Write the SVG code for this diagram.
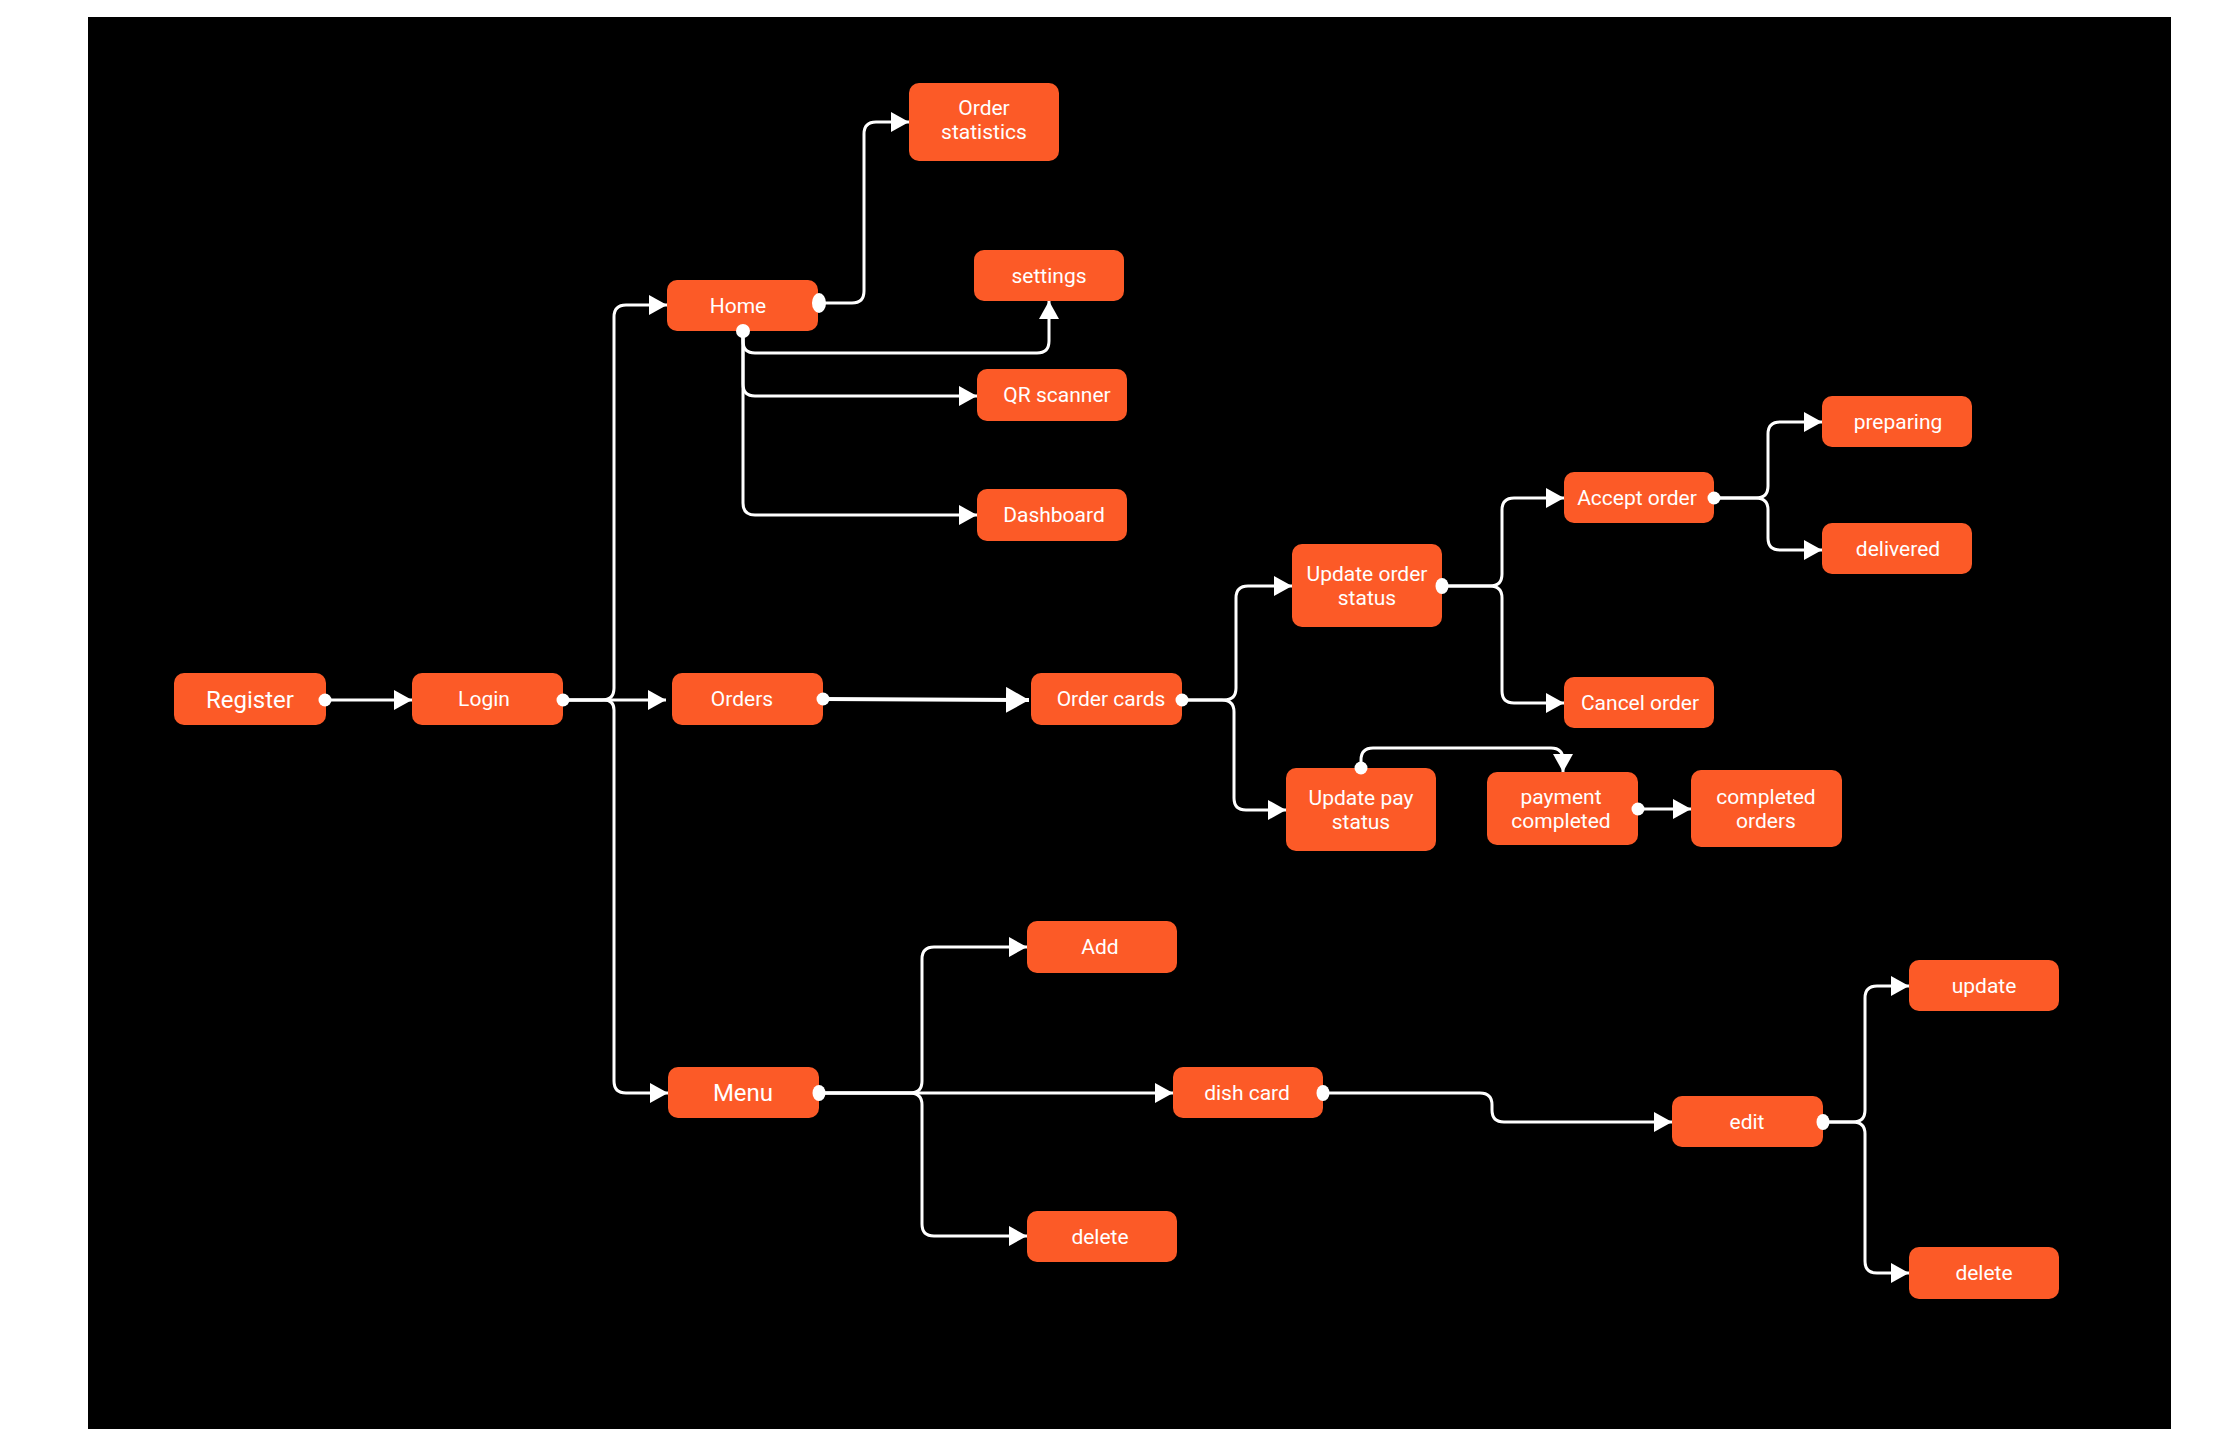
<svg xmlns="http://www.w3.org/2000/svg" width="2236" height="1450" viewBox="0 0 2236 1450">
<defs>
<marker id="arr" markerUnits="userSpaceOnUse" markerWidth="18" markerHeight="20" refX="18" refY="10" orient="auto">
<path d="M0,0 L18,10 L0,20 z" fill="#fff"/>
</marker>
<marker id="arrbig" markerUnits="userSpaceOnUse" markerWidth="23" markerHeight="26" refX="23" refY="13" orient="auto">
<path d="M0,0 L23,13 L0,26 z" fill="#fff"/>
</marker>
<style>
.box{fill:#FC5A27;}
.t{font-family:Roboto,"Liberation Sans",sans-serif;font-size:21px;fill:#fff;text-anchor:middle;}
.big{font-size:24px;}
.c{fill:none;stroke:#fff;stroke-width:3;marker-end:url(#arr);}
.cb{fill:none;stroke:#fff;stroke-width:4;marker-end:url(#arrbig);}
.d{fill:#fff;}
</style>
</defs>
<rect x="0" y="0" width="2236" height="1450" fill="#fff"/>
<rect x="88" y="17" width="2083" height="1412" fill="#000"/>

<g id="connectors">
<path class="c" d="M325,700 H412"/>
<path class="c" d="M563,700 H666"/>
<path class="c" d="M563,700 H602 Q614,700 614,688 V317 Q614,305 626,305 H667"/>
<path class="c" d="M563,700 H604 Q614,700 614,710 V1081 Q614,1093 626,1093 H668"/>
<path class="c" d="M819,303 H852 Q864,303 864,291 V134 Q864,122 876,122 H909"/>
<path class="c" d="M743,331 V341 Q743,353 755,353 H1037 Q1049,353 1049,341 V301"/>
<path class="c" d="M743,331 V384 Q743,396 755,396 H977"/>
<path class="c" d="M743,331 V503 Q743,515 755,515 H977"/>
<path class="cb" d="M823,699 L1029,700"/>
<path class="c" d="M1182,700 H1224 Q1236,700 1236,688 V598 Q1236,586 1248,586 H1292"/>
<path class="c" d="M1182,700 H1222 Q1234,700 1234,712 V798 Q1234,810 1246,810 H1286"/>
<path class="c" d="M1442,586 H1490 Q1502,586 1502,574 V510 Q1502,498 1514,498 H1564"/>
<path class="c" d="M1442,586 H1490 Q1502,586 1502,598 V691 Q1502,703 1514,703 H1564"/>
<path class="c" d="M1714,498 H1756 Q1768,498 1768,486 V434 Q1768,422 1780,422 H1822"/>
<path class="c" d="M1714,498 H1756 Q1768,498 1768,510 V538 Q1768,550 1780,550 H1822"/>
<path class="c" d="M1361,768 V760 Q1361,748 1373,748 H1551 Q1563,748 1563,760 V772"/>
<path class="c" d="M1638,809 H1691"/>
<path class="c" d="M819,1093 H910 Q922,1093 922,1081 V959 Q922,947 934,947 H1027"/>
<path class="c" d="M819,1093 H1173"/>
<path class="c" d="M819,1093 H910 Q922,1093 922,1105 V1224 Q922,1236 934,1236 H1027"/>
<path class="c" d="M1323,1093 H1480 Q1492,1093 1492,1105 V1110 Q1492,1122 1504,1122 H1672"/>
<path class="c" d="M1823,1122 H1853 Q1865,1122 1865,1110 V998 Q1865,986 1877,986 H1909"/>
<path class="c" d="M1823,1122 H1853 Q1865,1122 1865,1134 V1261 Q1865,1273 1877,1273 H1909"/>
</g>

<g id="register"><rect class="box" x="174" y="673" width="152" height="52" rx="10"/><text class="t big" x="250" y="708">Register</text></g>
<g id="login"><rect class="box" x="412" y="673" width="151" height="52" rx="10"/><text class="t" x="484" y="706">Login</text></g>
<g id="home"><rect class="box" x="667" y="280" width="151" height="51" rx="10"/><text class="t" x="738" y="313">Home</text></g>
<g id="order-statistics"><rect class="box" x="909" y="83" width="150" height="78" rx="10"/><text class="t" x="984" y="115">Order</text><text class="t" x="984" y="139">statistics</text></g>
<g id="settings"><rect class="box" x="974" y="250" width="150" height="51" rx="10"/><text class="t" x="1049" y="283">settings</text></g>
<g id="qr-scanner"><rect class="box" x="977" y="369" width="150" height="52" rx="10"/><text class="t" x="1057" y="402">QR scanner</text></g>
<g id="dashboard"><rect class="box" x="977" y="489" width="150" height="52" rx="10"/><text class="t" x="1054" y="522">Dashboard</text></g>
<g id="orders"><rect class="box" x="672" y="673" width="151" height="52" rx="10"/><text class="t" x="742" y="706">Orders</text></g>
<g id="order-cards"><rect class="box" x="1031" y="673" width="151" height="52" rx="10"/><text class="t" x="1111" y="706">Order cards</text></g>
<g id="update-order-status"><rect class="box" x="1292" y="544" width="150" height="83" rx="10"/><text class="t" x="1367" y="581">Update order</text><text class="t" x="1367" y="605">status</text></g>
<g id="accept-order"><rect class="box" x="1564" y="472" width="150" height="51" rx="10"/><text class="t" x="1637" y="505">Accept order</text></g>
<g id="cancel-order"><rect class="box" x="1564" y="677" width="150" height="51" rx="10"/><text class="t" x="1640" y="710">Cancel order</text></g>
<g id="preparing"><rect class="box" x="1822" y="396" width="150" height="51" rx="10"/><text class="t" x="1898" y="429">preparing</text></g>
<g id="delivered"><rect class="box" x="1822" y="523" width="150" height="51" rx="10"/><text class="t" x="1898" y="556">delivered</text></g>
<g id="update-pay-status"><rect class="box" x="1286" y="768" width="150" height="83" rx="10"/><text class="t" x="1361" y="805">Update pay</text><text class="t" x="1361" y="829">status</text></g>
<g id="payment-completed"><rect class="box" x="1487" y="772" width="151" height="73" rx="10"/><text class="t" x="1561" y="804">payment</text><text class="t" x="1561" y="828">completed</text></g>
<g id="completed-orders"><rect class="box" x="1691" y="770" width="151" height="77" rx="10"/><text class="t" x="1766" y="804">completed</text><text class="t" x="1766" y="828">orders</text></g>
<g id="menu"><rect class="box" x="668" y="1067" width="151" height="51" rx="10"/><text class="t big" x="743" y="1101">Menu</text></g>
<g id="add"><rect class="box" x="1027" y="921" width="150" height="52" rx="10"/><text class="t" x="1100" y="954">Add</text></g>
<g id="delete-menu"><rect class="box" x="1027" y="1211" width="150" height="51" rx="10"/><text class="t" x="1100" y="1244">delete</text></g>
<g id="dish-card"><rect class="box" x="1173" y="1067" width="150" height="51" rx="10"/><text class="t" x="1247" y="1100">dish card</text></g>
<g id="edit"><rect class="box" x="1672" y="1096" width="151" height="51" rx="10"/><text class="t" x="1747" y="1129">edit</text></g>
<g id="update"><rect class="box" x="1909" y="960" width="150" height="51" rx="10"/><text class="t" x="1984" y="993">update</text></g>
<g id="delete-edit"><rect class="box" x="1909" y="1247" width="150" height="52" rx="10"/><text class="t" x="1984" y="1280">delete</text></g>

<g id="dots">
<circle class="d" cx="325" cy="700" r="6.5"/>
<circle class="d" cx="563" cy="700" r="6.5"/>
<ellipse class="d" cx="819" cy="303" rx="7" ry="10"/>
<circle class="d" cx="743" cy="331" r="7"/>
<circle class="d" cx="823" cy="699" r="6.5"/>
<circle class="d" cx="1182" cy="700" r="6.5"/>
<ellipse class="d" cx="1442" cy="586" rx="6.5" ry="8"/>
<circle class="d" cx="1714" cy="498" r="6.5"/>
<circle class="d" cx="1361" cy="768" r="6.5"/>
<circle class="d" cx="1638" cy="809" r="6.5"/>
<ellipse class="d" cx="819" cy="1093" rx="6.5" ry="8"/>
<ellipse class="d" cx="1323" cy="1093" rx="6.5" ry="8"/>
<ellipse class="d" cx="1823" cy="1122" rx="6.5" ry="8"/>
</g>
</svg>
